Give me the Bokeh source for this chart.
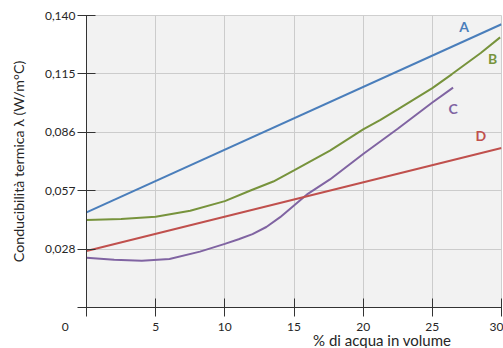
from bokeh.plotting import figure
from bokeh.models import FixedTicker, Range1d, Label
from bokeh.embed import file_html
from bokeh.resources import INLINE

# ---- data ----
x_A = [0, 30]
y_A = [0.0456, 0.1358]

x_B = [0, 2.5, 5, 7.5, 10, 11.9, 13.5, 15, 17.6, 20, 21.25, 22.5, 25, 26.4, 28.5, 29.9]
y_B = [0.0419, 0.0424, 0.0435, 0.0464, 0.0510, 0.0562, 0.0604, 0.0657, 0.0752, 0.0854,
       0.0900, 0.0950, 0.1052, 0.1118, 0.1220, 0.1295]

x_C = [0, 2, 4, 6, 8.2, 10, 11, 12, 13, 14, 15, 16, 17.6, 20, 22.5, 25, 26.5]
y_C = [0.0238, 0.0229, 0.0224, 0.0233, 0.0268, 0.0305, 0.0327, 0.0352, 0.0386, 0.0433,
       0.0489, 0.0545, 0.0614, 0.0736, 0.0857, 0.0983, 0.1054]

x_D = [0, 30]
y_D = [0.0271, 0.0765]

x_ticks = [0, 5, 10, 15, 20, 25, 30]
y_ticks = [0, 0.028, 0.056, 0.084, 0.112, 0.14]
y_tick_labels = ["", "0,028", "0,057", "0,086", "0,115", "0,140"]
x_label = "% di acqua in volume"
y_label = "Conducibilità termica λ (W/m°C)"

series_names = ["A", "B", "C", "D"]
series_colors = ["#4a7ebb", "#77933c", "#8064a2", "#c0504d"]
# label anchor positions (data units)
label_x = [27.3, 29.35, 26.5, 28.5]
label_y = [0.1345, 0.1195, 0.0955, 0.0825]

FONT = "Lato"
TXT = "#262626"

p = figure(width=503, height=351, output_backend="svg", toolbar_location=None,
           x_range=Range1d(0, 30), y_range=Range1d(0, 0.14),
           min_border_left=86, min_border_right=2, min_border_top=15, min_border_bottom=40)

p.background_fill_color = "#f2f2f2"
p.border_fill_color = "white"
p.outline_line_color = "#cfcfcf"

for xs, ys, c in zip([x_A, x_B, x_C, x_D], [y_A, y_B, y_C, y_D], series_colors):
    p.line(xs, ys, line_color=c, line_width=2)

for n, c, lx, ly in zip(series_names, series_colors, label_x, label_y):
    p.add_layout(Label(x=lx, y=ly, text=n, text_color=c, text_font=FONT,
                       text_font_size="14px", text_font_style="bold",
                       text_align="center", text_baseline="middle"))

# grids
p.xgrid.ticker = FixedTicker(ticks=x_ticks)
p.ygrid.ticker = FixedTicker(ticks=y_ticks)
for g in (p.xgrid, p.ygrid):
    g.grid_line_color = "#cccccc"
    g.grid_line_width = 1

xa = p.xaxis[0]
xa.ticker = FixedTicker(ticks=x_ticks)
# origin label "0" sits left of the axis corner: pad it with fixed-width spaces
xa.major_label_overrides = {0: "0" + "\u2003" * 3 + "\u00a0" * 5}
ya = p.yaxis[0]
ya.ticker = FixedTicker(ticks=y_ticks)
ya.major_label_overrides = {t: l for t, l in zip(y_ticks, y_tick_labels)}
ya.axis_label = y_label

for ax in (xa, ya):
    ax.axis_line_color = "#333333"
    ax.axis_line_width = 1
    ax.major_tick_line_color = "#333333"
    ax.major_tick_in = 9
    ax.major_tick_out = 9
    ax.minor_tick_line_color = None
    ax.major_label_text_font = FONT
    ax.major_label_text_font_size = "12px"
    ax.major_label_text_color = TXT
    ax.axis_label_text_font = FONT
    ax.axis_label_text_font_style = "normal"
    ax.axis_label_text_color = TXT

xa.major_label_standoff = 2
ya.major_label_standoff = 2
ya.axis_label_text_font_size = "14.2px"
ya.axis_label_standoff = 15

# x-axis title, pushed to the right end with leading fixed-width spaces
xa.axis_label_text_font_size = "15px"
xa.axis_label_standoff = -6
xa.axis_label = "\u2003" * 15 + "\u00a0" * 2 + x_label

open("out.html", "w").write(file_html(p, INLINE))
